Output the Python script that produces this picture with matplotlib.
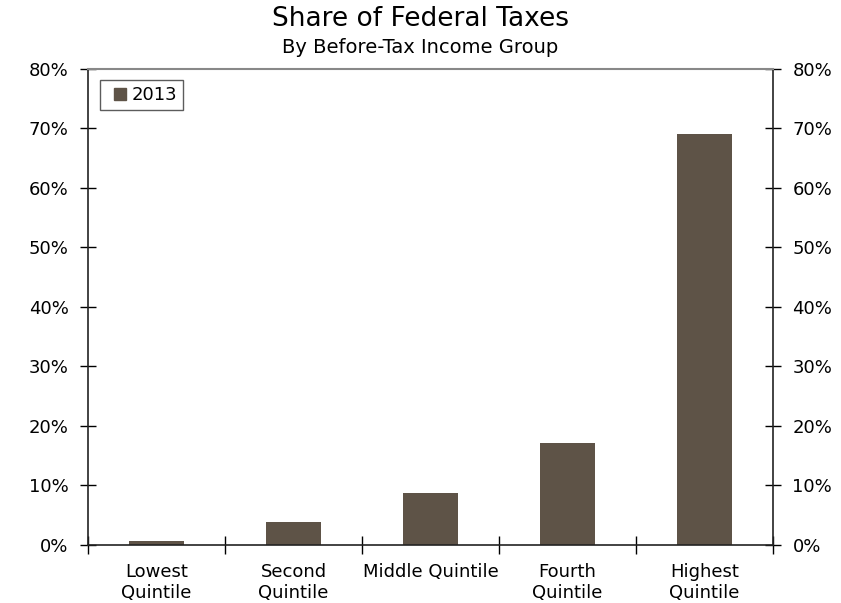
#!/usr/bin/env python3
import numpy as np
import matplotlib.pyplot as plt
from matplotlib.lines import Line2D
from matplotlib.ticker import FuncFormatter

groups = ["Lowest\nQuintile", "Second\nQuintile", "Middle Quintile", "Fourth\nQuintile", "Highest\nQuintile"]
share_2013 = [0.7, 3.9, 8.8, 17.1, 69.0]
yticks = [0, 10, 20, 30, 40, 50, 60, 70, 80]

bar_color = "#5e5347"

fig = plt.figure(figsize=(8.41, 6.03), dpi=100)
ax = fig.add_axes([0.1046, 0.0962, 0.8145, 0.7894])

x = np.arange(len(groups))
ax.bar(x, share_2013, width=0.4, color=bar_color, zorder=2)

ax.set_xlim(-0.5, len(groups) - 0.5)
ax.set_ylim(0, 80)
ax.set_yticks(yticks)
ax.yaxis.set_major_formatter(FuncFormatter(lambda v, p: f"{v:.0f}%"))
ax.tick_params(axis="y", which="both", direction="inout", length=12, width=1,
               labelsize=13, left=True, right=True, labelleft=True, labelright=True, pad=8)

ax.set_xticks(x)
ax.set_xticklabels(groups)
ax.tick_params(axis="x", which="major", length=0, labelsize=13, pad=13)
ax.set_xticks(np.arange(len(groups) + 1) - 0.5, minor=True)
ax.tick_params(axis="x", which="minor", direction="inout", length=13, width=1)

for s in ["left", "right", "bottom"]:
    ax.spines[s].set_color("#222222")
    ax.spines[s].set_linewidth(1.2)
ax.spines["top"].set_color("#888888")
ax.spines["top"].set_linewidth(1.5)

# square marker handle, shifted right inside the box like the original
handle = Line2D([], [], linestyle="none", marker="s", markersize=8,
                markerfacecolor=bar_color, markeredgecolor=bar_color)
leg = ax.legend([handle], ["2013"], loc="upper left", bbox_to_anchor=(0.0175, 0.977),
                fontsize=13, frameon=True, fancybox=False, edgecolor="#333333",
                handlelength=1.6, handletextpad=-0.2, borderpad=0.33, borderaxespad=0)
leg.get_frame().set_linewidth(1)

fig.text(0.5, 0.968, "Share of Federal Taxes", ha="center", va="center", fontsize=19)
fig.text(0.5, 0.921, "By Before-Tax Income Group", ha="center", va="center", fontsize=14)

fig.savefig("out.png", dpi=100)
